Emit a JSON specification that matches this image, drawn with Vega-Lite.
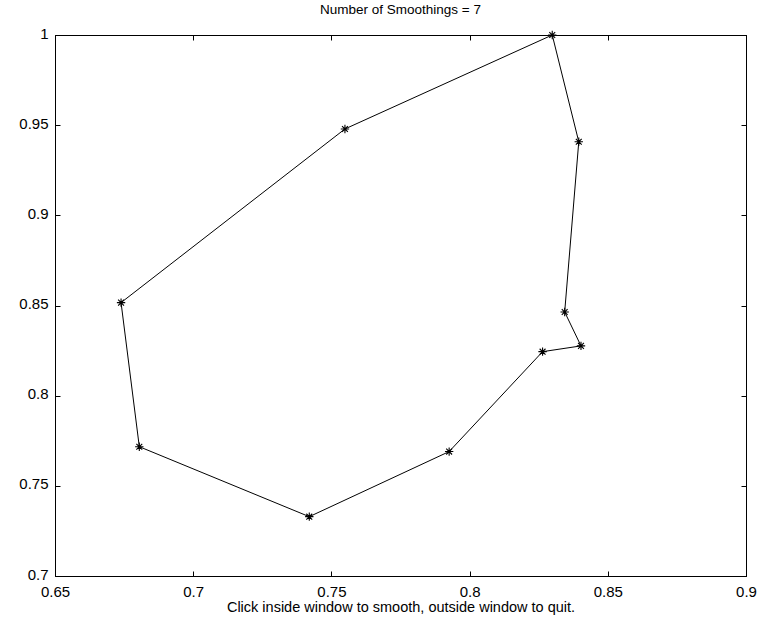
{
  "$schema": "https://vega.github.io/schema/vega-lite/v6.json",
  "width": 691,
  "height": 541,
  "autosize": {"type": "none"},
  "padding": {"left": 55, "top": 35, "right": 14, "bottom": 42},
  "background": "white",
  "title": {"text": "Number of Smoothings = 7", "font": "Liberation Sans", "fontSize": 13.5, "fontWeight": "normal", "color": "black", "offset": 10},
  "config": {
    "view": {"stroke": "black", "strokeWidth": 1},
    "axis": {"grid": false, "domainColor": "black", "tickColor": "black", "labelColor": "black", "labelFont": "Liberation Sans", "labelFontSize": 15, "titleFont": "Liberation Sans", "titleFontSize": 14.5, "titleFontWeight": "normal", "titleColor": "black"}
  },
  "data": {"values": [
    {"i": 1, "x": 0.8299, "y": 1.0},
    {"i": 2, "x": 0.8395, "y": 0.9408},
    {"i": 3, "x": 0.8344, "y": 0.8464},
    {"i": 4, "x": 0.8403, "y": 0.8276},
    {"i": 5, "x": 0.8264, "y": 0.8244},
    {"i": 6, "x": 0.7926, "y": 0.7690},
    {"i": 7, "x": 0.7420, "y": 0.7329},
    {"i": 8, "x": 0.6805, "y": 0.7717},
    {"i": 9, "x": 0.6739, "y": 0.8516},
    {"i": 10, "x": 0.7549, "y": 0.9479}
  ]},
  "resolve": {"axis": {"x": "independent", "y": "independent"}},
  "layer": [
    {
      "mark": {"type": "line", "interpolate": "linear-closed", "color": "black", "strokeWidth": 1},
      "encoding": {
        "x": {"field": "x", "type": "quantitative", "scale": {"domain": [0.65, 0.9], "nice": false, "zero": false},
              "axis": {"orient": "bottom", "values": [0.65, 0.7, 0.75, 0.8, 0.85, 0.9], "format": "~g", "tickSize": -5, "labelPadding": 13, "labelFlush": false, "labelOverlap": false, "title": "Click inside window to smooth, outside window to quit.", "titlePadding": 1}},
        "y": {"field": "y", "type": "quantitative", "scale": {"domain": [0.7, 1.0], "nice": false, "zero": false},
              "axis": {"orient": "left", "values": [0.7, 0.75, 0.8, 0.85, 0.9, 0.95, 1.0], "format": "~g", "tickSize": -5, "labelPadding": 12, "labelFlush": false, "labelOverlap": false, "labelOffset": -2, "title": null}},
        "order": {"field": "i", "type": "quantitative"}
      }
    },
    {
      "mark": {"type": "point", "shape": "M-1,0L1,0M0,-1L0,1M-0.7,-0.7L0.7,0.7M-0.7,0.7L0.7,-0.7", "filled": false, "stroke": "black", "strokeWidth": 1.1, "size": 70, "opacity": 1},
      "encoding": {
        "x": {"field": "x", "type": "quantitative",
              "axis": {"orient": "top", "values": [0.65, 0.7, 0.75, 0.8, 0.85, 0.9], "tickSize": -5, "labels": false, "title": null}},
        "y": {"field": "y", "type": "quantitative",
              "axis": {"orient": "right", "values": [0.7, 0.75, 0.8, 0.85, 0.9, 0.95, 1.0], "tickSize": -5, "labels": false, "title": null}}
      }
    }
  ]
}
